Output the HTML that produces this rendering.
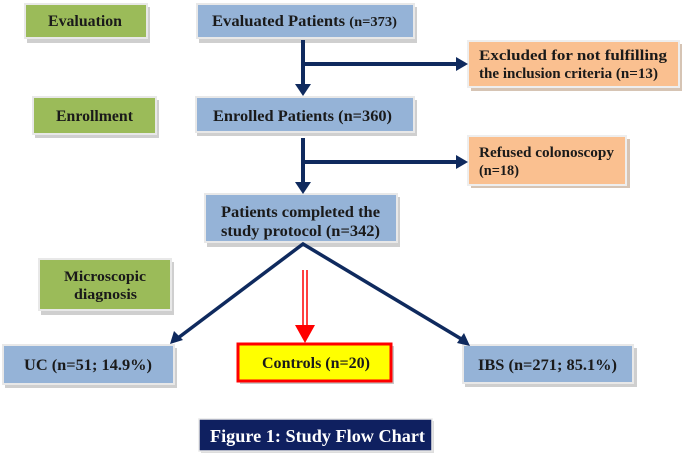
<!DOCTYPE html>
<html><head><style>
html,body{margin:0;padding:0;background:#fff;}
svg{display:block;}
svg text{font-family:"Liberation Serif","DejaVu Serif",serif;font-weight:bold;fill:#1a1a1a;}
</style></head><body>
<svg width="685" height="462" viewBox="0 0 685 462" xmlns="http://www.w3.org/2000/svg" font-family="Liberation Serif, serif">
<g stroke="none" fill="#cfcfcf">
<rect x="27" y="7" width="123" height="36"/>
<rect x="199" y="7" width="218" height="36"/>
<rect x="35" y="100" width="124" height="38"/>
<rect x="197" y="100" width="220" height="36"/>
<rect x="207" y="197" width="193" height="50"/>
<rect x="471" y="44" width="211" height="47" fill="#d6c4b4"/>
<rect x="471" y="139" width="159" height="49" fill="#d6c4b4"/>
<rect x="41" y="262" width="133" height="53"/>
<rect x="5" y="348" width="172" height="40"/>
<rect x="465" y="348" width="172" height="39"/>
</g>
<g stroke="#e8e8e8" stroke-width="2">
<rect x="25" y="4" width="122" height="34" fill="#9bbb59"/>
<rect x="197" y="4" width="217" height="34" fill="#95b3d7"/>
<rect x="33" y="97" width="123" height="37" fill="#9bbb59"/>
<rect x="196" y="97" width="218" height="35" fill="#95b3d7"/>
<rect x="205" y="194" width="192" height="48" fill="#95b3d7"/>
<rect x="468" y="41" width="211" height="46" fill="#fac090" stroke="#eee"/>
<rect x="468" y="136" width="158" height="49" fill="#fac090" stroke="#eee"/>
<rect x="39" y="259" width="132" height="51" fill="#9bbb59"/>
<rect x="3" y="345" width="171" height="39" fill="#95b3d7"/>
<rect x="463" y="345" width="170" height="38" fill="#95b3d7"/>
</g>
<rect x="240" y="346" width="154" height="38" fill="#c8c8c8"/>
<rect x="238" y="344" width="153" height="37" fill="#ffff00" stroke="#ff0000" stroke-width="3"/>
<rect x="201" y="421" width="233" height="32" fill="#ddd"/>
<rect x="199" y="419" width="233" height="32" fill="#0f2060" stroke="#e8e8e8" stroke-width="1.5"/>
<g stroke="#0f2a5e" stroke-width="4" fill="none">
<line x1="303" y1="40" x2="303" y2="86"/>
<line x1="303" y1="64" x2="458" y2="64"/>
<line x1="303" y1="138" x2="303" y2="184"/>
<line x1="303" y1="162" x2="458" y2="162"/>
<polyline points="178,338 303,244 463,340" stroke-width="3.5"/>
</g>
<g fill="#0f2a5e">
<path d="M295,84 L311,84 L303,96 Z"/>
<path d="M295,182 L311,182 L303,194 Z"/>
<path d="M456,57 L468,64 L456,71 Z"/>
<path d="M456,155 L468,162 L456,169 Z"/>
<path d="M170,344 L174,331 L183,340 Z"/>
<path d="M470,346 L457,343 L464,333 Z"/>
</g>
<g stroke="#ff0000" stroke-width="1.5"><line x1="303" y1="270" x2="303" y2="326"/><line x1="307" y1="270" x2="307" y2="326"/></g>
<path d="M295,325 L315,325 L305,343 Z" fill="#ff0000"/>
<text x="48" y="26" font-size="16" textLength="74" lengthAdjust="spacingAndGlyphs">Evaluation</text>
<text x="212" y="26" font-size="16" textLength="185" lengthAdjust="spacingAndGlyphs">Evaluated Patients <tspan font-size="14">(n=373)</tspan></text>
<text x="56" y="121" font-size="16" textLength="77" lengthAdjust="spacingAndGlyphs">Enrollment</text>
<text x="213" y="121" font-size="16" textLength="179" lengthAdjust="spacingAndGlyphs">Enrolled Patients (n=360)</text>
<text x="221" y="217" font-size="16" textLength="159" lengthAdjust="spacingAndGlyphs">Patients completed the</text>
<text x="221" y="236" font-size="16" textLength="159" lengthAdjust="spacingAndGlyphs">study protocol (n=342)</text>
<text x="479" y="60" font-size="15" textLength="188" lengthAdjust="spacingAndGlyphs">Excluded for not fulfilling</text>
<text x="479" y="78" font-size="15" textLength="179" lengthAdjust="spacingAndGlyphs">the inclusion criteria (n=13)</text>
<text x="479" y="157" font-size="15" textLength="135" lengthAdjust="spacingAndGlyphs">Refused colonoscopy</text>
<text x="479" y="175" font-size="15" textLength="40" lengthAdjust="spacingAndGlyphs">(n=18)</text>
<text x="64" y="281" font-size="15" textLength="82" lengthAdjust="spacingAndGlyphs">Microscopic</text>
<text x="74" y="299" font-size="15" textLength="63" lengthAdjust="spacingAndGlyphs">diagnosis</text>
<text x="24" y="370" font-size="16" textLength="128" lengthAdjust="spacingAndGlyphs">UC (n=51; 14.9%)</text>
<text x="262" y="368" font-size="16" textLength="108" lengthAdjust="spacingAndGlyphs">Controls (n=20)</text>
<text x="478" y="370" font-size="16" textLength="139" lengthAdjust="spacingAndGlyphs">IBS (n=271; 85.1%)</text>
<text x="210" y="442" font-size="18" textLength="215" lengthAdjust="spacingAndGlyphs" style="fill:#fff">Figure 1: Study Flow Chart</text>
</svg>
</body></html>
